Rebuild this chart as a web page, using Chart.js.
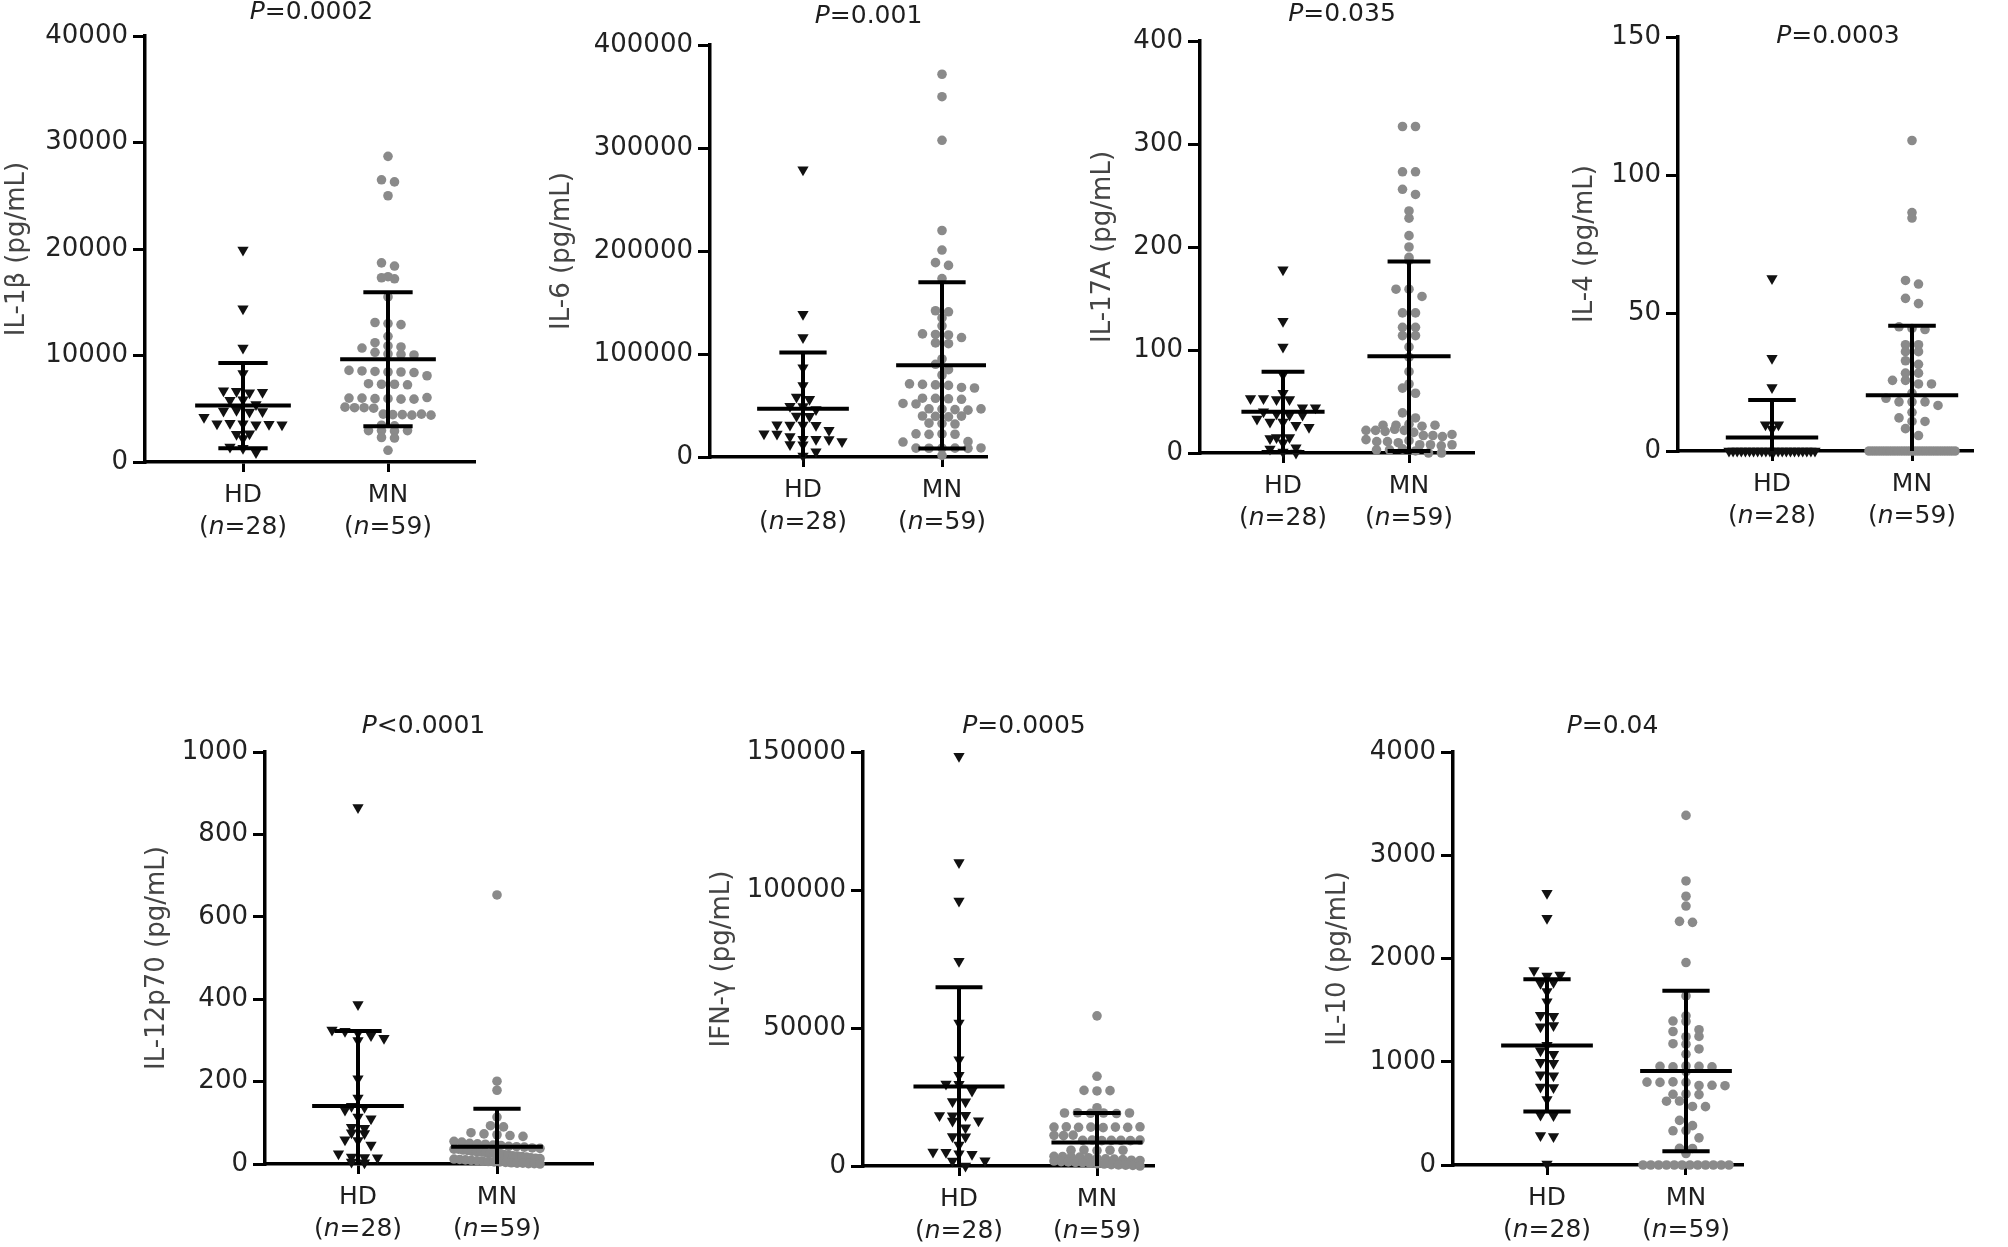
<!DOCTYPE html>
<html>
<head>
<meta charset="utf-8">
<title>Serum cytokines: HD vs MN</title>
<script src="https://cdn.jsdelivr.net/npm/chart.js@4.4.1/dist/chart.umd.min.js"></script>
<style>
  html, body { margin: 0; padding: 0; background: #fff; }
  #figure { position: relative; width: 2008px; height: 1247px; overflow: hidden; }
  #figure canvas { position: absolute; }
</style>
</head>
<body>
<div id="figure"></div>
<script>
// ────────────────────────────────────────────────
// Data
// ────────────────────────────────────────────────
const groups = ['HD', 'MN'];
const groupN = [28, 59];

// IL-1β
const il1bTicks = [0, 10000, 20000, 30000, 40000];
const il1bHD = [19900, 14400, 10700, 8300, 6700, 6650, 6500, 6550, 5800, 5850, 5400, 4800, 4850, 4700, 4750, 4200,
    3600, 3650, 3600, 3500, 3550, 3500, 2600, 2650, 2200, 1400, 1300, 900];
const il1bMN = [28700, 26500, 26300, 25000, 18700, 18400, 17400, 17300, 17200, 15500, 13100, 13000, 12900, 11800,
    11200, 10900, 10800, 10700, 10300, 10150, 10100, 10050, 8600, 8550, 8500, 8450, 8450, 8400, 8100, 7350, 7300,
    7300, 7250, 6000, 6000, 5950, 5950, 5900, 5900, 6050, 5150, 5100, 5100, 5050, 4500, 4450, 4450, 4400, 4500,
    4400, 3450, 3400, 2950, 2950, 2900, 2950, 2300, 2250, 1100];
const il1bMean = [5300, 9650];
const il1bSD = [4000, 6300];

// IL-6
const il6Ticks = [0, 100000, 200000, 300000, 400000];
const il6HD = [278800, 138500, 116000, 86600, 69300, 58200, 56000, 49200, 49000, 46000, 39800, 39600, 31200, 31100,
    31000, 30800, 26000, 22500, 22300, 20000, 17300, 17200, 17000, 15000, 12100, 12000, 5200, 1000];
const il6MN = [371600, 349800, 307500, 219900, 200900, 188700, 186000, 173200, 142000, 141000, 135000, 127400,
    119500, 119000, 118500, 116000, 110800, 110000, 95200, 90000, 84800, 79600, 71000, 70500, 70000, 69500, 67500,
    67000, 57100, 57000, 56500, 56000, 52000, 51500, 46800, 46500, 46000, 45500, 46700, 39800, 39500, 39000, 39700,
    32900, 32500, 32000, 22500, 22000, 22400, 22100, 14900, 14500, 8660, 8500, 8700, 8600, 8400, 8800, 1500];
const il6Mean = [46750, 89000];
const il6SD = [54700, 80700];

// IL-17A
const il17Ticks = [0, 100, 200, 300, 400];
const il17HD = [178, 128, 103, 76, 58, 53, 53, 52, 52, 44, 44, 40, 38, 37, 37, 33, 30, 30, 27, 25, 15, 15, 14, 10,
    5, 4, 1, 0];
const il17MN = [317, 317, 273, 273, 256, 251, 235, 228, 211, 200, 190, 187, 159, 159, 152, 136, 136, 122, 122, 114,
    114, 103, 93, 79, 67, 63, 58, 39, 34, 27, 27, 28, 26, 27, 22, 22, 21, 23, 22, 20, 17, 17, 16, 18, 13, 11, 11,
    10, 12, 8, 8, 7, 8, 3, 3, 4, 2, 0, 0];
const il17Mean = [40, 94];
const il17SD = [39, 92];

// IL-4
const il4Ticks = [0, 50, 100, 150];
const il4HD = [62.5, 33.6, 23, 9.5, 9.5, 8, 0, 0, 0, 0, 0, 0, 0, 0, 0, 0, 0, 0, 0, 0, 0, 0, 0, 0, 0, 0, 0, 0];
const il4MN = [112.5, 86.4, 84.4, 61.8, 60.5, 55.3, 53.4, 45, 44.4, 44, 38.5, 38.5, 36, 36, 32.7, 31.4, 28.2, 28.2,
    25.6, 25.6, 24.3, 24.3, 21, 19.1, 17.8, 17.8, 17.8, 16.5, 14, 12, 10.7, 10.7, 8.1, 5.6,
    0, 0, 0, 0, 0, 0, 0, 0, 0, 0, 0, 0, 0, 0, 0, 0, 0, 0, 0, 0, 0, 0, 0, 0, 0];
const il4Mean = [4.9, 20.2];
const il4SD = [13.6, 25.2];

// IL-12p70
const il12Ticks = [0, 200, 400, 600, 800, 1000];
const il12HD = [865, 387, 325, 322, 318, 312, 305, 300, 207, 160, 140, 138, 131, 114, 110, 89, 87, 76, 74, 59, 57,
    46, 25, 17, 16, 15, 5, 3];
const il12MN = [653, 201, 179, 114, 93, 90, 76, 73, 71, 69, 67, 55, 53, 50, 49, 48, 46, 45, 43, 42, 41, 39, 38, 36,
    36, 34, 33, 31, 30, 29, 28, 26, 25, 24, 23, 22, 20, 19, 18, 17, 15, 14, 13, 12, 11, 10, 9, 8, 7, 6, 5, 5, 4, 3,
    2, 2, 1, 1, 0];
const il12Mean = [141, 42];
const il12SD = [182, 92];

// IFN-γ
const ifngTicks = [0, 50000, 100000, 150000];
const ifngHD = [148500, 110000, 96000, 74200, 51800, 38500, 32900, 29700, 29600, 27200, 23400, 23300, 18300, 18200,
    18400, 16400, 16300, 13900, 10700, 10600, 7600, 5100, 5000, 4400, 4300, 1900, 1800, 0];
const ifngMN = [54400, 32500, 27400, 27200, 27300, 21100, 19200, 19300, 19100, 19200, 19000, 19200, 14100, 14200,
    14000, 14100, 13900, 14100, 14000, 14200, 11100, 11000, 11200, 9300, 9400, 9200, 9300, 9300, 9200, 9400, 5700,
    5800, 5600, 5700, 5700, 3500, 3400, 3300, 3200, 3000, 2800, 2600, 2500, 2300, 2100, 2000, 1800, 1600, 1500,
    1300, 1200, 1000, 800, 700, 500, 400, 300, 200, 0];
const ifngMean = [28800, 8500];
const ifngSD = [36000, 10700];

// IL-10
const il10Ticks = [0, 1000, 2000, 3000, 4000];
const il10HD = [2633, 2390, 1884, 1830, 1840, 1760, 1770, 1680, 1580, 1450, 1440, 1340, 1350, 1160, 1107, 1073, 995,
    985, 875, 865, 755, 750, 635, 485, 480, 285, 275, 10];
const il10MN = [3386, 2751, 2603, 2508, 2360, 2350, 1961, 1637, 1445, 1394, 1390, 1310, 1293, 1242, 1245, 1175,
    1170, 1124, 1073, 955, 950, 960, 955, 950, 905, 803, 800, 805, 800, 770, 772, 768, 685, 688, 682, 618, 620, 567,
    565, 432, 381, 331, 333, 263, 162, 160, 111, 0, 0, 0, 0, 0, 0, 0, 0, 0, 0, 0, 0];
const il10Mean = [1158, 911];
const il10SD = [640, 777];

// ────────────────────────────────────────────────
// Panel layout (pixel boxes of each plot in the page)
// ────────────────────────────────────────────────
const panels = [
    { yTitle: 'IL-1β (pg/mL)',    p: 'P=0.0002', ticks: il1bTicks, hd: il1bHD, mn: il1bMN, mean: il1bMean, sd: il1bSD,
      box: { axisX: 145, top: 36, bottom: 462, right: 474, hdX: 243, mnX: 388, titleX: 17, pY: -24 } },
    { yTitle: 'IL-6 (pg/mL)',     p: 'P=0.001',  ticks: il6Ticks, hd: il6HD, mn: il6MN, mean: il6Mean, sd: il6SD,
      box: { axisX: 710, top: 45, bottom: 457, right: 986, hdX: 803, mnX: 942, titleX: 562, pY: -29 } },
    { yTitle: 'IL-17A (pg/mL)',   p: 'P=0.035',  ticks: il17Ticks, hd: il17HD, mn: il17MN, mean: il17Mean, sd: il17SD,
      box: { axisX: 1200, top: 41, bottom: 453, right: 1473, hdX: 1283, mnX: 1409, titleX: 1103, pY: -27 } },
    { yTitle: 'IL-4 (pg/mL)',     p: 'P=0.0003', ticks: il4Ticks, hd: il4HD, mn: il4MN, mean: il4Mean, sd: il4SD,
      box: { axisX: 1678, top: 37, bottom: 451, right: 1972, hdX: 1772, mnX: 1912, titleX: 1585, pY: -1 } },
    { yTitle: 'IL-12p70 (pg/mL)', p: 'P<0.0001', ticks: il12Ticks, hd: il12HD, mn: il12MN, mean: il12Mean, sd: il12SD,
      box: { axisX: 265, top: 752, bottom: 1164, right: 592, hdX: 358, mnX: 497, titleX: 157, pY: -26 } },
    { yTitle: 'IFN-γ (pg/mL)',    p: 'P=0.0005', ticks: ifngTicks, hd: ifngHD, mn: ifngMN, mean: ifngMean, sd: ifngSD,
      box: { axisX: 863, top: 752, bottom: 1166, right: 1153, hdX: 959, mnX: 1097, titleX: 722, pY: -26 } },
    { yTitle: 'IL-10 (pg/mL)',    p: 'P=0.04',   ticks: il10Ticks, hd: il10HD, mn: il10MN, mean: il10Mean, sd: il10SD,
      box: { axisX: 1453, top: 752, bottom: 1165, right: 1742, hdX: 1547, mnX: 1686, titleX: 1338, pY: -26 } }
];

const FONT = '"DejaVu Sans", sans-serif';
const PAD_TOP = 45;
const X_AXIS_H = 85;
const ROW_H = 10;        // px height of one dot row
const DOT_GAP = 13;      // px between dot centres in a row
const MAX_SPREAD = 86;   // px, widest a row may get
const MEAN_HALF = 0.33;  // x units
const CAP_HALF = 0.17;

Chart.defaults.font.family = FONT;

// ────────────────────────────────────────────────
// Helpers
// ────────────────────────────────────────────────

/** Spread values of one group into rows, GraphPad style */
function swarm(values, center, pxPerX, pxPerY) {
    const rows = new Map();
    values.forEach(v => {
        const r = Math.round(v * pxPerY / ROW_H);
        if (!rows.has(r)) rows.set(r, []);
        rows.get(r).push(v);
    });
    const pts = [];
    rows.forEach(list => {
        const n = list.length;
        const step = n > 1 ? Math.min(DOT_GAP, MAX_SPREAD / (n - 1)) : 0;
        list.forEach((v, i) => pts.push({ x: center + (i - (n - 1) / 2) * step / pxPerX, y: v }));
    });
    return pts;
}

function segment(pts) {
    return {
        type: 'scatter', data: pts, showLine: true, borderColor: '#000', borderWidth: 4,
        pointRadius: 0, order: 0, clip: 0
    };
}

/** Mean line plus SD whiskers */
function errorBars(mean, sd, c) {
    return [
        segment([{ x: c - MEAN_HALF, y: mean }, { x: c + MEAN_HALF, y: mean }]),
        segment([{ x: c, y: mean - sd }, { x: c, y: mean + sd }]),
        segment([{ x: c - CAP_HALF, y: mean + sd }, { x: c + CAP_HALF, y: mean + sd }]),
        segment([{ x: c - CAP_HALF, y: mean - sd }, { x: c + CAP_HALF, y: mean - sd }])
    ];
}

/** Draw text made of plain / italic runs, centred on cx */
function drawRuns(ctx, runs, cx, cy) {
    const fonts = runs.map(r => (r[1] ? 'italic ' : '') + '25px ' + FONT);
    const widths = runs.map((r, i) => { ctx.font = fonts[i]; return ctx.measureText(r[0]).width; });
    let x = cx - widths.reduce((a, b) => a + b, 0) / 2;
    runs.forEach((r, i) => { ctx.font = fonts[i]; ctx.fillText(r[0], x, cy); x += widths[i]; });
}

const panelText = {
    id: 'panelText',
    afterDraw(chart, args, opts) {
        const { ctx, scales: { x, y } } = chart;
        const base = y.getPixelForValue(0);
        ctx.save();
        ctx.fillStyle = '#1e1e1e';
        ctx.textAlign = 'left';
        ctx.textBaseline = 'middle';
        groups.forEach((g, i) => {
            const cx = x.getPixelForValue(i + 1);
            drawRuns(ctx, [[g, false]], cx, base + 33);
            drawRuns(ctx, [['(', false], ['n', true], ['=' + groupN[i] + ')', false]], cx, base + 65);
        });
        const top = y.getPixelForValue(y.max);
        drawRuns(ctx, [[opts.p[0], true], [opts.p.slice(1), false]], x.getPixelForValue(1.5) - 4, top + opts.pY);
        ctx.restore();
    }
};

// ────────────────────────────────────────────────
// Build charts
// ────────────────────────────────────────────────
const fig = document.getElementById('figure');

panels.forEach(panel => {
    const b = panel.box;
    const left = Math.round(b.titleX - 13);
    const plotH = Math.round(b.bottom - b.top);
    const w = Math.round(b.right - left + 14);
    const h = PAD_TOP + plotH + X_AXIS_H;
    const yAxisW = b.axisX - left;

    const canvas = document.createElement('canvas');
    canvas.width = w;
    canvas.height = h;
    canvas.style.left = left + 'px';
    canvas.style.top = (Math.round(b.top) - PAD_TOP) + 'px';
    canvas.style.width = w + 'px';
    canvas.style.height = h + 'px';
    fig.appendChild(canvas);

    const spacing = b.mnX - b.hdX;
    const xMin = 1 - (b.hdX - b.axisX) / spacing;
    const xMax = 1 + (b.right - b.hdX) / spacing;
    const yMax = panel.ticks[panel.ticks.length - 1];
    const pxPerY = plotH / yMax;

    const datasets = [
        {
            label: groups[0], data: swarm(panel.hd, 1, spacing, pxPerY),
            pointStyle: 'triangle', pointRotation: 180, pointRadius: 6.5,
            pointBackgroundColor: '#111', pointBorderWidth: 0, order: 1, clip: false
        },
        {
            label: groups[1], data: swarm(panel.mn, 2, spacing, pxPerY),
            pointStyle: 'circle', pointRadius: 4.8,
            pointBackgroundColor: '#8a8a8a', pointBorderWidth: 0, order: 1, clip: false
        },
        ...errorBars(panel.mean[0], panel.sd[0], 1),
        ...errorBars(panel.mean[1], panel.sd[1], 2)
    ];

    new Chart(canvas, {
        type: 'scatter',
        data: { datasets },
        options: {
            responsive: false,
            animation: false,
            events: [],
            layout: { padding: { top: PAD_TOP, right: w - (b.right - left), left: 0, bottom: 0 } },
            plugins: {
                legend: { display: false },
                tooltip: { enabled: false },
                panelText: { p: panel.p, pY: b.pY }
            },
            scales: {
                x: {
                    type: 'linear', min: xMin, max: xMax,
                    afterBuildTicks: s => { s.ticks = [{ value: 1 }, { value: 2 }]; },
                    afterFit: s => { s.height = X_AXIS_H; },
                    ticks: { display: false },
                    grid: { drawOnChartArea: false, drawTicks: true, tickLength: 10, color: '#000', lineWidth: 3 },
                    border: { display: true, color: '#000', width: 3.5 }
                },
                y: {
                    type: 'linear', min: 0, max: yMax,
                    afterBuildTicks: s => { s.ticks = panel.ticks.map(v => ({ value: v })); },
                    afterFit: s => { s.width = yAxisW; },
                    ticks: { color: '#222', font: { size: 26 }, padding: 5, callback: v => String(v) },
                    grid: { drawOnChartArea: false, drawTicks: true, tickLength: 12, color: '#000', lineWidth: 3 },
                    border: { display: true, color: '#000', width: 3.5 },
                    title: {
                        display: true, text: panel.yTitle, color: '#444', padding: 0,
                        font: { size: 26, lineHeight: 1 }
                    }
                }
            }
        },
        plugins: [panelText]
    });
});
</script>
</body>
</html>
